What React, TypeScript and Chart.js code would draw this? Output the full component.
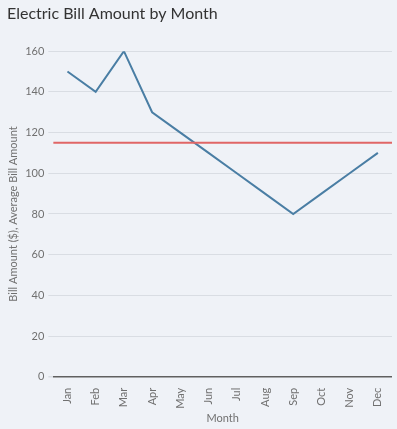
import React, { useEffect, useRef } from "react";
import { Chart, registerables } from "chart.js";

Chart.register(...registerables);

const months = ["Jan", "Feb", "Mar", "Apr", "May", "Jun", "Jul", "Aug", "Sep", "Oct", "Nov", "Dec"];
const billAmounts = [150, 140, 160, 130, 120, 110, 100, 90, 80, 90, 100, 110];
const averageBill = 115;

const averageLinePlugin = {
  id: "averageLine",
  afterDatasetsDraw(chart: any) {
    const { ctx, chartArea, scales } = chart;
    const y = scales.y.getPixelForValue(averageBill);
    ctx.save();
    ctx.strokeStyle = "#e06666";
    ctx.lineWidth = 2;
    ctx.beginPath();
    ctx.moveTo(chartArea.left, y);
    ctx.lineTo(chartArea.right, y);
    ctx.stroke();
    ctx.restore();
  },
};

export default function App() {
  const ref = useRef<HTMLCanvasElement | null>(null);
  useEffect(() => {
    document.body.style.margin = "0";
    document.body.style.background = "#eff2f7";
    const ctx = ref.current!;
    const font = "Lato, 'Open Sans', sans-serif";
    const chart = new Chart(ctx, {
      type: "line",
      data: {
        labels: months,
        datasets: [
          {
            label: "Bill Amount ($)",
            data: billAmounts,
            borderColor: "#4a7ea4",
            borderWidth: 2,
            pointRadius: 0,
            tension: 0,
          },
        ],
      },
      plugins: [averageLinePlugin],
      options: {
        animation: false,
        responsive: false,
        layout: { padding: { left: 7, right: 5, top: 0, bottom: 4 } },
        plugins: {
          legend: { display: false },
          tooltip: { enabled: false },
          title: {
            display: true,
            text: "Electric Bill Amount by Month",
            align: "start",
            color: "#333333",
            font: { family: font, size: 16, weight: "normal" },
            padding: { top: 4, bottom: 28 },
          },
        },
        scales: {
          x: {
            offset: true,
            grid: { display: false },
            border: { display: false },
            ticks: {
              color: "#707070",
              font: { family: font, size: 11 },
              maxRotation: 90,
              minRotation: 90,
              padding: 3,
            },
            title: {
              display: true,
              text: "Month",
              color: "#707070",
              font: { family: font, size: 11 },
              padding: { top: 0, bottom: 0 },
            },
          },
          y: {
            min: 0,
            max: 160,
            ticks: {
              stepSize: 20,
              color: "#707070",
              font: { family: font, size: 11 },
              padding: 4,
            },
            grid: {
              color: (c: any) => (c.tick && c.tick.value === 0 ? "#606060" : "#d9dde3"),
              lineWidth: (c: any) => (c.tick && c.tick.value === 0 ? 1.5 : 1),
              tickColor: "#d9dde3",
              tickLength: 5,
            },
            border: { display: false },
            title: {
              display: true,
              text: "Bill Amount ($), Average Bill Amount",
              color: "#707070",
              font: { family: font, size: 11 },
              padding: { top: 0, bottom: 1 },
            },
          },
        },
      },
    });
    return () => chart.destroy();
  }, []);
  return (
    <div style={{ width: 397, height: 429, background: "#eff2f7" }}>
      <canvas ref={ref} width={397} height={429} />
    </div>
  );
}
